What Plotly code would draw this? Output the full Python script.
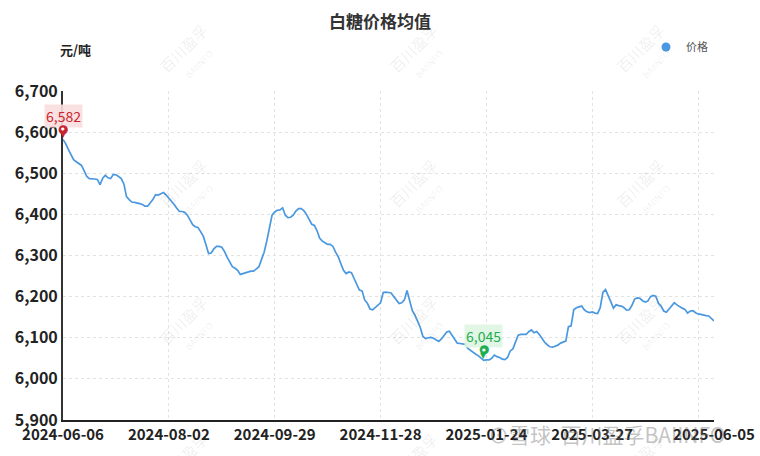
import pandas as pd
import plotly.graph_objects as go

# ---------------------------------------------------------
# Data
# ---------------------------------------------------------

TITLE = "白糖价格均值"
UNIT = "元/吨"
SERIES_NAME = "价格"

START = "2024-06-06"
END = "2025-06-05"

# weekday holidays (CN) and weekend make-up working days
HOLIDAYS = [
    "2024-06-10", "2024-09-16", "2024-09-17",
    "2024-10-01", "2024-10-02", "2024-10-03", "2024-10-04", "2024-10-07",
    "2025-01-01", "2025-01-28", "2025-01-29", "2025-01-30", "2025-01-31",
    "2025-02-03", "2025-02-04", "2025-04-04",
    "2025-05-01", "2025-05-02", "2025-05-05", "2025-06-02",
]
MAKEUP_DAYS = [
    "2024-09-14", "2024-09-29", "2024-10-12",
    "2025-01-26", "2025-02-08", "2025-04-27",
]

PRICE = [
    6582, 6572, 6558, 6546, 6533, 6528, 6524, 6519, 6506, 6492,
    6487, 6487, 6486, 6485, 6472, 6488, 6495, 6489, 6487, 6497,
    6496, 6492, 6487, 6474, 6443, 6436, 6430, 6429, 6428, 6426,
    6424, 6420, 6420, 6428, 6437, 6448, 6447, 6450, 6453, 6447,
    6440, 6432, 6424, 6415, 6407, 6407, 6405, 6398, 6388, 6375,
    6370, 6368, 6358, 6347, 6327, 6305, 6306, 6316, 6322, 6322,
    6320, 6310, 6296, 6285, 6273, 6269, 6264, 6254, 6256, 6258,
    6260, 6262, 6262, 6266, 6272, 6290, 6308, 6335, 6366, 6398,
    6406, 6410, 6411, 6416, 6398, 6392, 6393, 6398, 6408, 6414,
    6414, 6409, 6400, 6388, 6376, 6373, 6360, 6342, 6335, 6331,
    6327, 6327, 6322, 6308, 6297, 6280, 6264, 6256, 6260, 6258,
    6244, 6226, 6216, 6214, 6192, 6184, 6170, 6168, 6174, 6180,
    6185, 6210, 6211, 6210, 6209, 6200, 6191, 6183, 6185, 6192,
    6215, 6188, 6166, 6155, 6140, 6125, 6103, 6098, 6100, 6101,
    6099, 6094, 6091, 6097, 6105, 6114, 6116, 6106, 6096, 6087,
    6086, 6085, 6084, 6074, 6069, 6063, 6060, 6056, 6051, 6045,
    6046, 6046, 6050, 6058, 6054, 6052, 6048, 6047, 6052, 6068,
    6073, 6092, 6106, 6108, 6108, 6108, 6115, 6119, 6112, 6115,
    6108, 6098, 6089, 6083, 6078, 6077, 6079, 6082, 6087, 6090,
    6092, 6127, 6129, 6168, 6173, 6175, 6177, 6168, 6163, 6161,
    6163, 6160, 6159, 6173, 6210, 6217, 6200, 6188, 6172, 6180,
    6178, 6177, 6173, 6167, 6168, 6179, 6194, 6197, 6196, 6190,
    6187, 6189, 6200, 6203, 6201, 6184, 6177, 6165, 6162, 6169,
    6177, 6185, 6180, 6175, 6172, 6169, 6160, 6165, 6166, 6161,
    6158, 6157, 6155, 6154, 6153, 6146, 6141,
]

TICK_LABELS = [
    "2024-06-06", "2024-08-02", "2024-09-29", "2024-11-28",
    "2025-01-24", "2025-03-27", "2025-06-05",
]

# ---------------------------------------------------------
# Trading calendar
# ---------------------------------------------------------

workdays = pd.bdate_range(START, END, freq="C", holidays=HOLIDAYS)
DATES = sorted(set(workdays.strftime("%Y-%m-%d")) | set(MAKEUP_DAYS))
DATES = DATES[: len(PRICE)]

LINE_COLOR = "#4a98e0"
FONT = "Noto Sans CJK SC"
GRID = dict(showgrid=True, gridcolor="#e3e3e3", griddash="3px,3px", gridwidth=1)

grid_vals = DATES[::40] + [DATES[-1]]
grid_text = [d if d in TICK_LABELS else "" for d in grid_vals]

# plot area in pixels (for paper coords of free text)
L, R, T, B = 63, 46, 91, 36
PW, PH = 760 - L - R, 456 - T - B


def px_x(x):
    return (x - L) / PW


def px_y(y):
    return (456 - B - y) / PH


fig = go.Figure()

fig.add_scatter(
    x=DATES,
    y=PRICE,
    mode="lines",
    line=dict(color=LINE_COLOR, width=1.7),
    showlegend=False,
    name=SERIES_NAME,
)

# legend entry as a dot
fig.add_scatter(
    x=[None],
    y=[None],
    mode="markers",
    marker=dict(color=LINE_COLOR, size=9),
    name=SERIES_NAME,
)

# ---------------------------------------------------------
# Max / min markers
# ---------------------------------------------------------

i_max = PRICE.index(max(PRICE))
i_min = PRICE.index(min(PRICE))

for idx, color, bg in [
    (i_max, "#c9252f", "rgba(248,222,222,0.9)"),
    (i_min, "#1fae4f", "rgba(222,245,226,0.9)"),
]:
    x, y = DATES[idx], PRICE[idx]
    fig.add_annotation(
        x=x, y=y, text=f"{PRICE[idx]:,}",
        showarrow=False, yshift=24,
        bgcolor=bg, borderpad=1,
        font=dict(family=FONT, size=14, color=color),
    )
    fig.add_annotation(
        x=x, y=y, text="▼", showarrow=False, yshift=5,
        font=dict(family="DejaVu Sans", size=8, color=color),
    )
    fig.add_annotation(
        x=x, y=y, text="●", showarrow=False, yshift=11,
        font=dict(family="DejaVu Sans", size=12, color=color),
    )
    fig.add_annotation(
        x=x, y=y, text="●", showarrow=False, yshift=11,
        font=dict(family="DejaVu Sans", size=4, color="white"),
    )

# ---------------------------------------------------------
# Watermarks
# ---------------------------------------------------------

for wx in [190, 420, 647]:
    for wy in [55, 190, 327, 464]:
        fig.add_annotation(
            xref="paper", yref="paper",
            x=px_x(wx), y=px_y(wy), xanchor="center", yanchor="middle",
            text="百川盈孚<br><span style='font-size:9px'>BAIINFO</span>",
            textangle=-45, showarrow=False,
            font=dict(family=FONT, size=15, color="rgba(0,0,0,0.08)"),
        )

fig.add_annotation(
    xref="paper", yref="paper",
    x=px_x(606), y=px_y(434), xanchor="center", yanchor="middle",
    text="⊙雪球  百川盈孚BAIINFO",
    showarrow=False,
    font=dict(family=FONT, size=21, color="rgba(110,110,110,0.42)"),
)

fig.add_annotation(
    xref="paper", yref="paper",
    x=px_x(58), y=px_y(50), xanchor="left", yanchor="middle",
    text=f"<b>{UNIT}</b>", showarrow=False,
    font=dict(family=FONT, size=13, color="#222"),
)

fig.update_layout(
    width=760,
    height=456,
    margin=dict(l=L, r=R, t=T, b=B, autoexpand=False),
    paper_bgcolor="white",
    plot_bgcolor="white",
    title=dict(
        text=f"<b>{TITLE}</b>",
        x=0.5, xref="container", xanchor="center",
        y=1 - 22 / 456, yanchor="middle",
        font=dict(family=FONT, size=17, color="#333"),
    ),
    legend=dict(
        x=px_x(646), y=px_y(47),
        xanchor="left", yanchor="middle",
        itemwidth=30,
        font=dict(family=FONT, size=11, color="#555"),
        bgcolor="rgba(0,0,0,0)",
    ),
    xaxis=dict(
        type="category",
        range=[0, len(DATES) - 1],
        tickmode="array",
        tickvals=grid_vals,
        ticktext=grid_text,
        **GRID,
        automargin=False,
        showline=True,
        linecolor="#222",
        linewidth=2,
        ticks="",
        tickangle=0,
        tickfont=dict(family=FONT, size=15, color="#222", weight="bold"),
    ),
    yaxis=dict(
        range=[5900, 6700],
        dtick=100,
        tickformat=",",
        **GRID,
        automargin=False,
        zeroline=False,
        showline=True,
        linecolor="#333",
        linewidth=2,
        ticks="",
        tickfont=dict(family=FONT, size=16, color="#222", weight="bold"),
    ),
)

fig.write_html(
    "out.html",
    config={"displayModeBar": False},
    post_script="document.body.style.margin='0';document.body.style.overflow='hidden';",
)
